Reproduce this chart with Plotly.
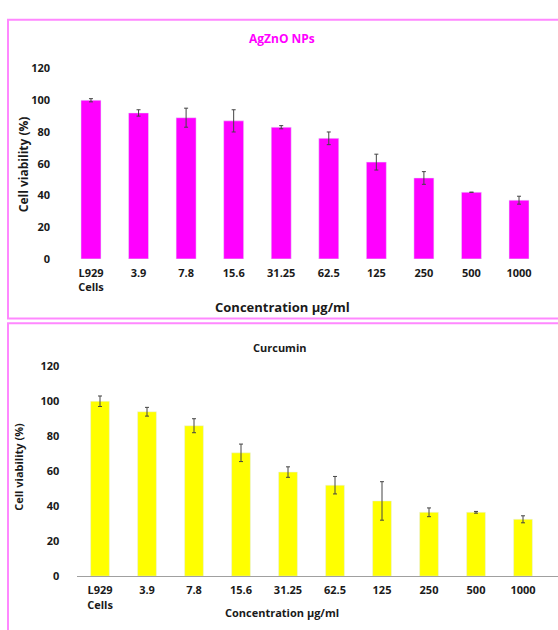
import plotly.graph_objects as go

categories = ["L929<br>Cells", "3.9", "7.8", "15.6", "31.25", "62.5", "125", "250", "500", "1000"]
agzno_values = [100, 92, 89, 87, 83, 76, 61, 51, 42, 37]
agzno_errors = [1, 2, 6, 7, 1, 4, 5, 4, 0, 2.5]
curcumin_values = [100, 94, 86, 70.5, 59.5, 52, 43, 36.5, 36.5, 32.5]
curcumin_errors = [3, 2.5, 4, 5, 3, 5, 11, 2.5, 0.5, 2]

W, H = 558, 630
def px(x):
    return x / W
def py(y):
    return 1 - y / H

FONT = "Open Sans"
TXT = "#1a1a1a"
xs = list(range(len(categories)))

fig = go.Figure()
fig.add_trace(go.Bar(x=xs, y=agzno_values, marker_color="#ff00ff", width=0.42,
                     error_y=dict(type="data", array=agzno_errors, color="#444", thickness=1, width=2),
                     xaxis="x", yaxis="y", showlegend=False))
fig.add_trace(go.Bar(x=xs, y=curcumin_values, marker_color="#ffff00", width=0.4,
                     error_y=dict(type="data", array=curcumin_errors, color="#444", thickness=1, width=2),
                     xaxis="x2", yaxis="y2", showlegend=False))

tickfont = dict(family=FONT, size=11, color=TXT, weight=700)
fig.update_layout(
    width=W, height=H, margin=dict(l=0, r=0, t=0, b=0),
    paper_bgcolor="white", plot_bgcolor="white",
    xaxis=dict(domain=[px(67.2), px(542.8)], anchor="y", range=[-0.5, 9.5],
               tickmode="array", tickvals=xs, ticktext=categories, tickfont=tickfont,
               showgrid=False, zeroline=False, showline=False, ticks="outside", ticklen=4,
               tickcolor="rgba(0,0,0,0)"),
    yaxis=dict(domain=[py(257), py(62)], anchor="x", range=[0, 120], dtick=20,
               tickfont=tickfont, showgrid=False, zeroline=False, showline=False,
               ticks="outside", ticklen=14, tickcolor="rgba(0,0,0,0)"),
    xaxis2=dict(domain=[px(76.5), 1.0], anchor="y2", range=[-0.5, 9.5 + (558 - 546.5) / 47.0],
                tickmode="array", tickvals=xs, ticktext=categories, tickfont=tickfont,
                showgrid=False, zeroline=False, showline=True, linecolor="#a0a0a0", linewidth=1,
                ticks="outside", ticklen=4, tickcolor="rgba(0,0,0,0)"),
    yaxis2=dict(domain=[py(582), py(367)], anchor="x2", range=[0, 120], dtick=20,
                tickfont=tickfont, showgrid=False, zeroline=False, showline=False,
                ticks="outside", ticklen=14, tickcolor="rgba(0,0,0,0)"),
)

fig.add_shape(type="rect", xref="paper", yref="paper", x0=px(8), x1=px(575), y0=py(318), y1=py(12),
              line=dict(color="#ff88ff", width=2), layer="below")
fig.add_shape(type="rect", xref="paper", yref="paper", x0=px(8), x1=px(575), y0=py(650), y1=py(323),
              line=dict(color="#ff88ff", width=2), layer="below")

ann = [
    dict(text="AgZnO NPs", x=px(282), y=py(31), font=dict(family=FONT, size=12, color="#ff00ff", weight=700)),
    dict(text="Curcumin", x=px(280), y=py(348), font=dict(family=FONT, size=11, color=TXT, weight=700)),
    dict(text="Concentration µg/ml", x=px(282), y=py(306), font=dict(family=FONT, size=13, color=TXT, weight=700)),
    dict(text="Concentration µg/ml", x=px(282), y=py(619), font=dict(family=FONT, size=11, color=TXT, weight=700)),
    dict(text="Cell viability (%)", x=px(23), y=py(160), textangle=-90, font=dict(family=FONT, size=12, color=TXT, weight=700)),
    dict(text="Cell viability (%)", x=px(19), y=py(470), textangle=-90, font=dict(family=FONT, size=11, color=TXT, weight=700)),
]
for a in ann:
    fig.add_annotation(xref="paper", yref="paper", showarrow=False, xanchor="center", yanchor="middle", **a)

fig.write_html("out.html", config={"displayModeBar": False},
               post_script="document.body.style.margin='0';document.body.style.overflow='hidden';")
